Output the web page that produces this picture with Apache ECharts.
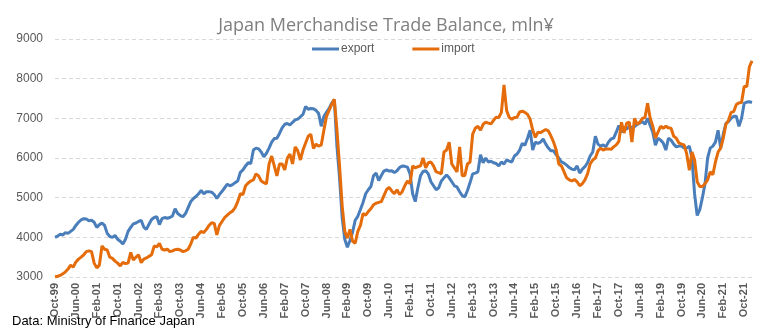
<!DOCTYPE html>
<html><head><meta charset="utf-8">
<script src="https://cdn.jsdelivr.net/npm/echarts@6/dist/echarts.min.js"></script>
<style>html,body{margin:0;padding:0;background:#fff}#c{width:772px;height:331px}</style>
</head><body><div id="c"></div>
<script>
// Monthly data, Oct-1999 .. Jan-2022
const startYear = 1999, startMonth = 9; // 0-based month index (Oct)
const monthNames = ['Jan','Feb','Mar','Apr','May','Jun','Jul','Aug','Sep','Oct','Nov','Dec'];
const exportValues = [
4000,4030,4080,4060,4120,4100,4150,4200,4300,4380,
4440,4470,4460,4420,4430,4380,4250,4320,4360,4300,
4100,4020,4000,4050,3950,3900,3830,3950,4150,4250,
4340,4360,4400,4430,4260,4200,4330,4450,4500,4520,
4320,4470,4500,4480,4500,4540,4720,4600,
4550,4520,4600,4750,4900,4980,5030,5100,5180,5100,
5150,5150,5140,5080,4980,5080,5160,5250,5340,5300,
5330,5380,5420,5640,5700,5800,5880,5860,6200,6250,
6230,6150,6030,6120,6250,6400,6490,6500,6620,6760,
6850,6870,6830,6900,6960,6980,
7040,7100,7300,7230,7250,7240,7200,7120,6800,7050,
7150,7250,7380,7470,6300,5500,4500,3950,3750,3920,
4130,4430,4530,4700,4880,5100,5200,5280,5550,5620,
5430,5560,5670,5700,5670,5680,5630,5680,5760,5800,
5790,5770,5600,5100,4900,5250,5550,5660,5680,5600,
5400,5300,5200,5250,5420,5500,5570,5500,5400,5300,
5270,5150,5050,5020,5180,5380,5600,5620,5650,6080,
5880,6000,5900,5920,5880,5860,5800,5900,5850,5950,
5920,5900,6050,6100,6200,6370,6320,6500,6700,6200,
6400,6370,6400,6480,6350,6250,6180,6180,6080,6000,
5900,5870,
5820,5760,5720,5700,5800,5620,5720,5780,5880,6050,
6150,6550,6350,6300,6330,6280,6400,6480,6500,6650,
6820,6650,6760,6730,6800,6760,6790,6850,6880,6920,
6850,7000,6820,6650,6320,6500,6450,6380,6200,6500,
6450,6350,6280,6300,6300,6250,6250,6300,
6000,5100,4550,4700,5000,5350,6000,6250,6300,6400,
6700,6250,6600,6870,6920,7000,7050,7050,6800,7000,
7380,7410,7420,7400
];
const importValues = [
3000,3020,3040,3080,3130,3200,3300,3250,3380,3450,
3500,3560,3640,3660,3640,3350,3230,3300,3780,3700,
3680,3500,3470,3400,3350,3280,3370,3340,3350,3620,
3430,3500,3560,3360,3450,3480,3520,3560,3780,3760,
3850,3700,3680,3700,3640,3660,3690,3700,
3680,3640,3660,3700,3830,4000,3980,4080,4150,4120,
4200,4300,4370,4350,4060,4300,4400,4500,4560,4620,
4660,4750,4900,5100,5080,5300,5370,5420,5450,5600,
5550,5420,5380,5350,5850,6050,5800,5550,5850,5850,
5700,6000,6100,5850,6280,6180,
5950,6200,6380,6550,6600,6240,6350,6300,6330,6700,
7050,7200,7350,7480,6700,5800,4800,4150,3980,4200,
3900,3850,4150,4300,4600,4560,4650,4720,4820,4860,
4880,4900,5050,5200,5260,5170,5100,5200,5080,5150,
5300,5420,5350,5800,5750,5780,5800,6000,5750,5880,
5900,5800,5650,5630,5600,6150,6200,6400,5850,5750,
5650,6280,5550,5560,5850,5900,6600,6750,6800,6700,
6850,6900,6880,6860,6950,7030,7020,7150,7840,7200,
7020,6980,7020,7030,7160,7180,7150,7100,6980,6700,
6520,6650,6640,6680,6720,6680,6550,6400,6200,5850,
5800,5650,
5500,5450,5420,5460,5400,5300,5350,5450,5600,5850,
5950,6000,6180,6250,6200,6230,6230,6220,6280,6330,
6420,6900,6630,6880,6900,6400,7000,6850,6900,7000,
7020,7380,7000,6800,6500,6650,6800,6750,6800,6760,
6750,6550,6500,6380,
6350,6330,6100,5690,6150,5950,5400,5280,5280,5350,
5450,5650,5580,5900,6150,6250,6500,6850,6950,7150,
7170,7350,7390,7400,7800,7800,8300,8450
];
const categories = [];
for (let i = 0; i < exportValues.length; i++) {
  const m = (startMonth + i) % 12;
  const y = startYear + Math.floor((startMonth + i) / 12);
  categories.push(monthNames[m] + '-' + String(y % 100).padStart(2, '0'));
}
const yMin = 3000, yMax = 9000, yStep = 1000;

const chart = echarts.init(document.getElementById('c'), null, {renderer: 'canvas'});
chart.setOption({
  animation: false,
  backgroundColor: '#ffffff',
  textStyle: {fontFamily: 'Liberation Sans'},
  title: {
    text: 'Japan Merchandise Trade Balance, mln¥',
    left: 'center', top: 12,
    textStyle: {fontSize: 18, fontWeight: 'normal', color: '#7f7f7f', fontFamily: 'Open Sans'}
  },
  legend: {
    top: 38, left: 307,
    icon: 'rect', itemWidth: 27, itemHeight: 3, itemGap: 38,
    textStyle: {fontSize: 12, color: '#595959', padding: [0, 0, 0, -3]},
    data: ['export', 'import']
  },
  grid: {left: 55, right: 20, top: 39, bottom: 54, containLabel: false},
  xAxis: {
    type: 'category', data: categories, boundaryGap: false,
    axisLine: {show: false}, axisTick: {show: false},
    axisLabel: {interval: 7, rotate: 90, fontSize: 11, fontWeight: 'bold', color: '#595959', margin: 6}
  },
  yAxis: {
    type: 'value', min: yMin, max: yMax, interval: yStep,
    axisLine: {show: false}, axisTick: {show: false},
    axisLabel: {fontSize: 12, color: '#595959', margin: 12, formatter: function (v) { return String(v); }},
    splitLine: {lineStyle: {color: '#d9d9d9', type: [4, 3], width: 1}}
  },
  series: [
    {name: 'export', type: 'line', data: exportValues, symbol: 'none',
     lineStyle: {width: 3, color: '#4a7ebb'}, itemStyle: {color: '#4a7ebb'}},
    {name: 'import', type: 'line', data: importValues, symbol: 'none',
     lineStyle: {width: 3, color: '#e46c0a'}, itemStyle: {color: '#e46c0a'}}
  ],
  graphic: [{
    type: 'text', left: 12, top: 315,
    style: {text: 'Data: Ministry of Finance Japan', fontSize: 13, fill: '#000000', fontFamily: 'Liberation Sans'}
  }]
});
</script></body></html>
